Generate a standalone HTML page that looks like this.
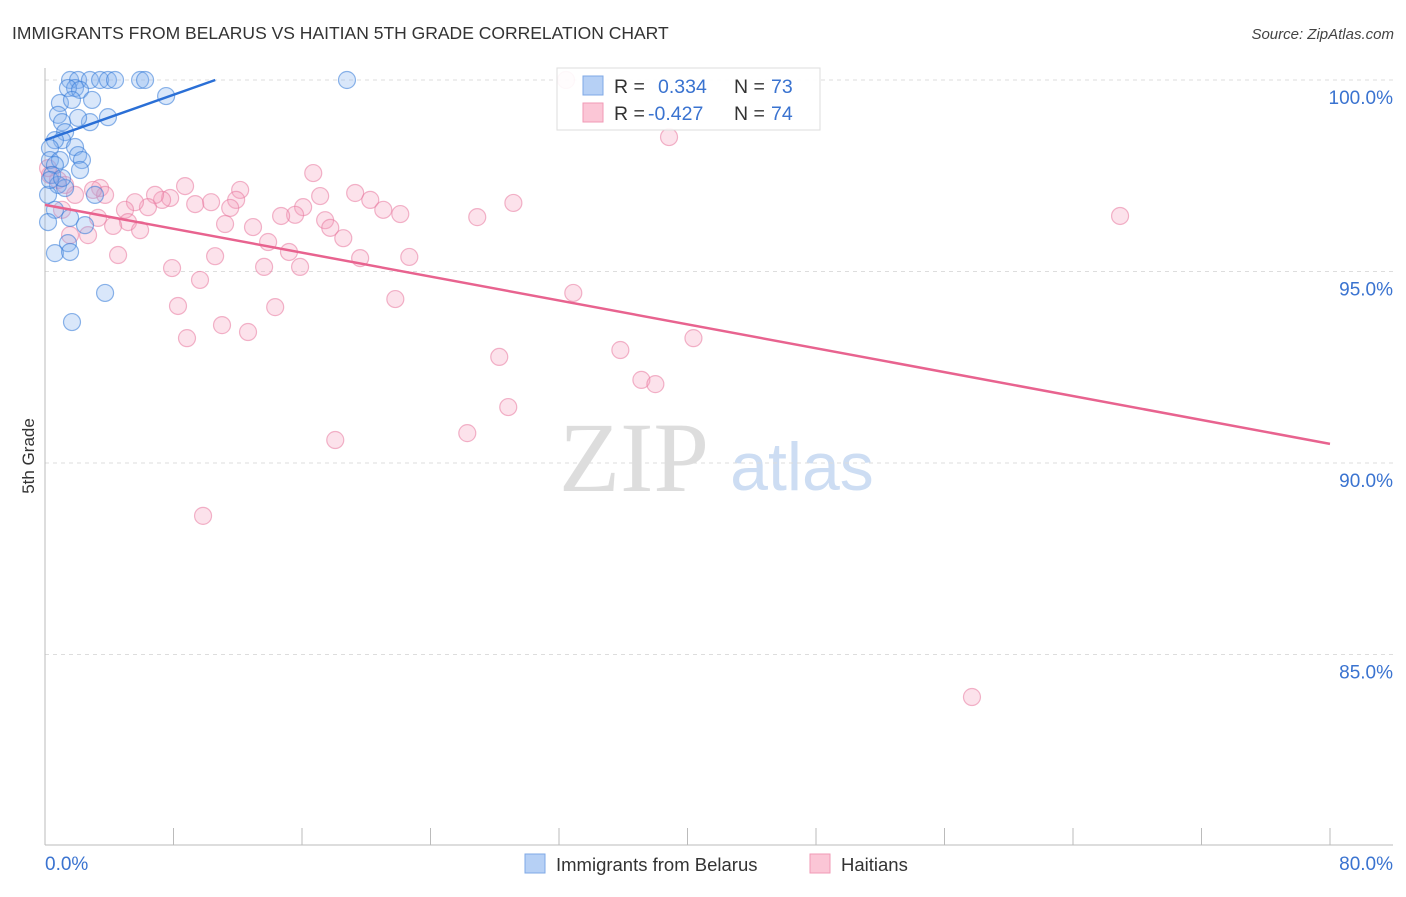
<!DOCTYPE html>
<html><head><meta charset="utf-8"><style>
body{margin:0;background:#fff;font-family:"Liberation Sans",sans-serif}
</style></head><body>
<svg id="chart" width="1406" height="892" xmlns="http://www.w3.org/2000/svg" font-family="Liberation Sans, sans-serif">
<text x="12" y="39" font-size="17.5" fill="#333">IMMIGRANTS FROM BELARUS VS HAITIAN 5TH GRADE CORRELATION CHART</text>
<text x="1394" y="39" font-size="15" fill="#444" text-anchor="end" font-style="italic">Source: ZipAtlas.com</text>
<g>
<text x="634" y="491" font-size="100" fill="#d0d0d0" text-anchor="middle" style="font-family:'Liberation Serif',serif" opacity="0.7">ZIP</text>
<text x="802" y="490" font-size="68" fill="#b8d0ee" text-anchor="middle" opacity="0.7">atlas</text>
</g>
<text transform="translate(34,456) rotate(-90)" font-size="17" fill="#333" text-anchor="middle">5th Grade</text>
<g id="grid"></g>
<g id="axes"></g>
<g id="marks"></g>
<g>
<rect x="557" y="68" width="263" height="62" fill="#fff" fill-opacity="0.9" stroke="#ddd"/>
<rect x="583" y="76" width="20" height="19" fill="#b6d0f5" stroke="#7fa8e6"/>
<rect x="583" y="103" width="20" height="19" fill="#fbc6d6" stroke="#f09ab6"/>
<text x="614" y="93" font-size="19.5" fill="#333">R =</text>
<text x="658" y="93" font-size="19.5" fill="#3a73d0">0.334</text>
<text x="734" y="93" font-size="19.5" fill="#333">N =</text>
<text x="771" y="93" font-size="19.5" fill="#3a73d0">73</text>
<text x="614" y="120" font-size="19.5" fill="#333">R =</text>
<text x="648" y="120" font-size="19.5" fill="#3a73d0">-0.427</text>
<text x="734" y="120" font-size="19.5" fill="#333">N =</text>
<text x="771" y="120" font-size="19.5" fill="#3a73d0">74</text>
</g>
<g>
<rect x="525" y="854" width="20" height="19" fill="#b6d0f5" stroke="#7fa8e6"/>
<text x="556" y="871" font-size="18.5" fill="#333">Immigrants from Belarus</text>
<rect x="810" y="854" width="20" height="19" fill="#fbc6d6" stroke="#f09ab6"/>
<text x="841" y="871" font-size="18.5" fill="#333">Haitians</text>
</g>
</svg>
<script>
const xTicks=[0,8,16,24,32,40,48,56,64,72,80];
const yTicks=[85,90,95,100];
const yTickLabels=["85.0%","90.0%","95.0%","100.0%"];
const xTickLabels=["0.0%","80.0%"];
const blueX=[1.56,2.06,2.80,3.43,3.92,4.36,5.92,6.23,18.8,1.87,1.43,2.18,7.54,0.93,1.68,2.93,0.81,3.92,2.80,1.06,2.06,1.25,1.06,0.62,0.31,1.87,2.06,0.31,0.93,2.30,0.62,2.18,0.44,0.81,1.25,3.11,0.19,0.62,1.56,2.49,0.19,1.43,0.62,1.56,3.74,1.68,0.31,1.06];
const blueY=[100,100,100,100,100,100,100,100,100,99.79,99.79,99.74,99.58,99.40,99.48,99.48,99.09,99.03,98.90,98.90,99.01,98.64,98.43,98.43,98.22,98.25,98.04,97.91,97.91,97.91,97.78,97.65,97.52,97.26,97.18,97.00,97.00,96.61,96.40,96.21,96.29,95.74,95.48,95.51,94.44,93.68,97.39,97.44];
const pinkX=[32.44,38.85,66.93,57.71,9.84,18.07,26.29,28.84,28.28,35.82,37.13,38.00,40.37,32.89,22.68,21.81,26.91,29.16,16.70,19.31,17.13,20.25,21.06,22.12,16.07,15.57,17.44,17.76,18.57,19.62,14.70,15.19,15.88,13.89,13.64,14.33,12.64,12.15,11.90,11.53,11.21,12.95,10.34,9.35,8.72,7.79,7.29,6.85,6.41,5.60,4.98,5.17,4.24,5.92,4.55,3.43,3.74,2.99,2.68,3.30,1.87,1.25,1.06,1.56,7.91,9.65,10.59,8.28,8.84,11.02,0.31,0.81,0.19];
const pinkY=[100,98.51,96.45,83.89,88.62,90.60,90.78,91.46,92.77,92.95,92.17,92.06,93.26,94.44,95.38,94.28,96.42,96.79,97.57,97.05,96.97,96.87,96.61,96.50,96.68,96.48,96.34,96.14,95.87,95.35,96.45,95.51,95.12,95.77,95.12,94.07,93.42,97.13,96.87,96.66,96.24,96.16,96.81,96.76,97.23,96.92,96.87,97.00,96.68,96.81,96.61,96.29,96.19,96.08,95.43,97.18,97.00,97.13,95.95,96.40,97.00,97.26,96.61,95.95,95.09,94.78,95.40,94.10,93.26,93.60,97.52,97.39,97.70];
const blueTrendX=[0,10.6];
const blueTrendY=[98.43,100];
const pinkTrendX=[0,80];
const pinkTrendY=[96.74,90.50];

const X0=45,X1=1330,Y100=80,PXPER=38.3;
function sx(v){return X0+(v/80)*(X1-X0);}
function sy(v){return Y100+(100-v)*PXPER;}
const NS="http://www.w3.org/2000/svg";
function mk(tag,attrs,parent){const e=document.createElementNS(NS,tag);for(const k in attrs)e.setAttribute(k,attrs[k]);parent.appendChild(e);return e;}
const grid=document.getElementById('grid'),axes=document.getElementById('axes'),marks=document.getElementById('marks');
yTicks.forEach((t,i)=>{
  const l=mk('line',{x1:X0,x2:1393,y1:sy(t),y2:sy(t),stroke:'#ddd','stroke-dasharray':'4,4'},grid);
  
  
  const tx=mk('text',{x:1393,y:sy(t)+24,'font-size':19,fill:'#3a73d0','text-anchor':'end'},axes);
  tx.textContent=yTickLabels[i];
  
  
});
const ya=mk('line',{x1:X0,x2:X0,y1:68,y2:845,stroke:'#bbb'},axes);


const xa=mk('line',{x1:X0,x2:1393,y1:845,y2:845,stroke:'#bbb'},axes);


xTicks.forEach(t=>{
  const l=mk('line',{x1:sx(t),x2:sx(t),y1:828,y2:845,stroke:'#bbb'},axes);
  
  
});
const xl0=mk('text',{x:45,y:870,'font-size':19,fill:'#3a73d0'},axes);
xl0.textContent=xTickLabels[0];


const xl1=mk('text',{x:1393,y:870,'font-size':19,fill:'#3a73d0','text-anchor':'end'},axes);
xl1.textContent=xTickLabels[1];


pinkX.forEach((v,i)=>{
  const c=mk('circle',{cx:sx(v),cy:sy(pinkY[i]),r:8.5,fill:'rgba(246,160,188,0.3)',stroke:'rgba(232,120,158,0.55)','stroke-width':1.2},marks);
  
  
});
blueX.forEach((v,i)=>{
  const c=mk('circle',{cx:sx(v),cy:sy(blueY[i]),r:8.5,fill:'rgba(130,175,240,0.3)',stroke:'rgba(50,120,215,0.55)','stroke-width':1.2},marks);
  
  
});
const bt=mk('line',{x1:sx(blueTrendX[0]),y1:sy(blueTrendY[0]),x2:sx(blueTrendX[1]),y2:sy(blueTrendY[1]),stroke:'#2a6fd6','stroke-width':2.5},marks);


const pt=mk('line',{x1:sx(pinkTrendX[0]),y1:sy(pinkTrendY[0]),x2:sx(pinkTrendX[1]),y2:sy(pinkTrendY[1]),stroke:'#e8638f','stroke-width':2.5},marks);


</script>
</body></html>
